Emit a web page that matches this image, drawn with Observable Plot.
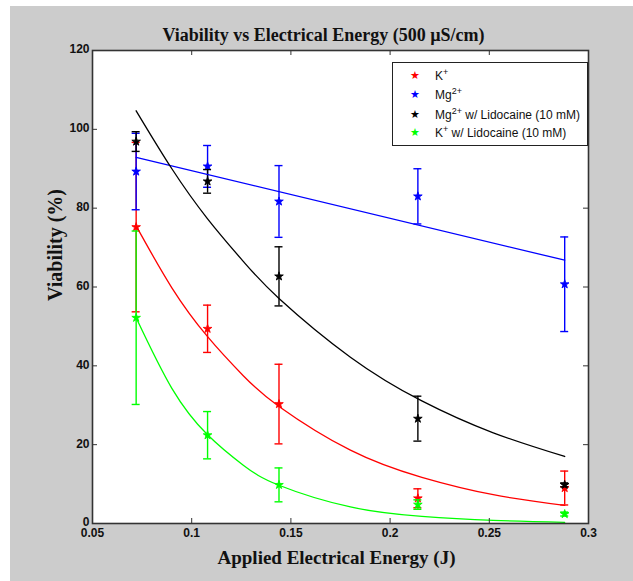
<!DOCTYPE html>
<html>
<head>
<meta charset="utf-8">
<script src="https://cdn.jsdelivr.net/npm/d3@7"></script>
<script src="https://cdn.jsdelivr.net/npm/@observablehq/plot@0.6"></script>
<style>
  body { margin: 0; background: white; }
  #wrap { position: relative; width: 633px; height: 581px; overflow: hidden; }
  #bg { position: absolute; left: 10px; top: 6px; right: 0; bottom: 0; background: #cccccc; }
  #legend { position: absolute; left: 392px; top: 62px; width: 196px; height: 84px; box-sizing: border-box;
    border: 1.5px solid #222; background: white; font-family: "Liberation Sans", Arial, sans-serif; font-size: 12px; color: #111; }
  .row { position: absolute; left: 0; height: 16px; line-height: 16px; white-space: nowrap; }
  .row .sym { position: absolute; left: 17px; top: 0; font-family: "DejaVu Sans"; font-size: 11px; }
  .row .lab { position: absolute; left: 42px; top: 0; }
  .row sup { font-size: 9px; line-height: 0; vertical-align: 5px; }
</style>
</head>
<body>
<div id="wrap"><div id="bg"></div></div>
<script>
const xVals = [0.072, 0.108, 0.144, 0.214, 0.288];
const kMean = [75.2, 49.4, 30.3, 6.4, 9.0];
const kErr = [21.5, 6.0, 10.1, 2.4, 4.3];
const mgMean = [89.3, 90.6, 81.7, 83.0, 60.7];
const mgErr = [9.7, 5.3, 9.1, 7.0, 12.0];
const mgLidoMean = [96.9, 86.8, 62.7, 26.6, 9.8];
const mgLidoErr = [2.5, 3.0, 7.5, 5.7, 0.5];
const kLidoMean = [52.2, 22.4, 9.8, 4.8, 2.4];
const kLidoErr = [22.0, 6.0, 4.3, 1.2, 0.5];

const fitX = [0.072, 0.09, 0.108, 0.126, 0.144, 0.18, 0.216, 0.252, 0.288];
const kFit = [75.5, 59.8, 47.4, 37.5, 29.7, 18.6, 11.7, 7.3, 4.6];
const mgLidoFit = [104.7, 90.0, 77.3, 66.5, 57.1, 42.2, 31.1, 23.0, 17.0];
const kLidoFit = [52.2, 34.3, 22.5, 14.8, 9.7, 4.2, 1.8, 0.8, 0.3];
const mgFitX = [0.072, 0.288];
const mgFit = [92.9, 66.8];

const xTicks = [0.05, 0.1, 0.15, 0.2, 0.25, 0.3];
const xTickLabels = ["0.05", "0.1", "0.15", "0.2", "0.25", "0.3"];
const yTicks = [0, 20, 40, 60, 80, 100, 120];
const yTickLabels = ["0", "20", "40", "60", "80", "100", "120"];

const seriesNames = ["K+", "Mg2+", "Mg2+ w/ Lidocaine (10 mM)", "K+ w/ Lidocaine (10 mM)"];
const seriesLegendHtml = ["K<sup>+</sup>", "Mg<sup>2+</sup>", "Mg<sup>2+</sup> w/ Lidocaine (10 mM)", "K<sup>+</sup> w/ Lidocaine (10 mM)"];
const seriesColors = ["#ff0000", "#0000ff", "#000000", "#00ff00"];
const titleText = "Viability vs Electrical Energy (500 µS/cm)";
const xLabel = "Applied Electrical Energy (J)";
const yLabel = "Viability (%)";

const means = [kMean, mgMean, mgLidoMean, kLidoMean];
const errs = [kErr, mgErr, mgLidoErr, kLidoErr];
const fits = [
  fitX.map((x, i) => ({x, y: kFit[i]})),
  mgFitX.map((x, i) => ({x, y: mgFit[i]})),
  fitX.map((x, i) => ({x, y: mgLidoFit[i]})),
  fitX.map((x, i) => ({x, y: kLidoFit[i]}))
];

const serif = "Liberation Serif, Times New Roman, serif";
const sans = "Liberation Sans, Arial, sans-serif";

const marks = [Plot.frame({fill: "white", stroke: null})];
seriesNames.forEach((name, s) => {
  const rows = xVals.map((x, i) => ({x, y: means[s][i], lo: means[s][i] - errs[s][i], hi: means[s][i] + errs[s][i]}));
  const c = seriesColors[s];
  marks.push(
    Plot.ruleX(rows, {x: "x", y1: "lo", y2: "hi", stroke: c, strokeWidth: 1.4}),
    Plot.ruleY(rows, {y: "lo", x1: "x", x2: "x", insetLeft: -4, insetRight: -4, stroke: c, strokeWidth: 1.4}),
    Plot.ruleY(rows, {y: "hi", x1: "x", x2: "x", insetLeft: -4, insetRight: -4, stroke: c, strokeWidth: 1.4}),
    Plot.dot(rows, {x: "x", y: "y", symbol: "star", r: 2.7, fill: c, stroke: c, strokeWidth: 0.9})
  );
});
seriesNames.forEach((name, s) => {
  marks.push(Plot.line(fits[s], {x: "x", y: "y", curve: "natural", stroke: seriesColors[s], strokeWidth: 1.3}));
});
marks.push(
  Plot.ruleX(xTicks, {x: d => d, insetTop: 468, stroke: "#333", strokeWidth: 1}),
  Plot.ruleX(xTicks, {x: d => d, insetBottom: 468, stroke: "#333", strokeWidth: 1}),
  Plot.ruleY(yTicks, {y: d => d, insetRight: 491, stroke: "#333", strokeWidth: 1}),
  Plot.ruleY(yTicks, {y: d => d, insetLeft: 491, stroke: "#333", strokeWidth: 1}),
  Plot.frame({stroke: "#333", strokeWidth: 1.6}),
  Plot.axisX({ticks: xTicks, tickSize: 0, tickPadding: 5, label: null, tickFormat: d => xTickLabels[xTicks.indexOf(d)],
    fontSize: 12, fontWeight: "bold", fontFamily: sans, fill: "#111"}),
  Plot.axisY({ticks: yTicks, tickSize: 0, tickPadding: 3, label: null, tickFormat: d => yTickLabels[yTicks.indexOf(d)],
    dy: -1, fontSize: 12, fontWeight: "bold", fontFamily: sans, fill: "#111"}),
  Plot.text([titleText], {frameAnchor: "top", lineAnchor: "middle", dy: -15, dx: -17, fontSize: 18, fontWeight: "bold", fontFamily: serif, fill: "#111"}),
  Plot.text([xLabel], {frameAnchor: "bottom", lineAnchor: "middle", dy: 34, dx: -4, fontSize: 19, fontWeight: "bold", fontFamily: serif, fill: "#111"}),
  Plot.text([yLabel], {frameAnchor: "left", lineAnchor: "middle", dx: -37, dy: 14, rotate: -90, fontSize: 20, fontWeight: "bold", fontFamily: serif, fill: "#111"})
);

const chart = Plot.plot({
  width: 633,
  height: 581,
  marginLeft: 92,
  marginRight: 45,
  marginTop: 50,
  marginBottom: 58,
  x: {domain: [0.05, 0.3]},
  y: {domain: [0, 120]},
  style: {background: "transparent", position: "absolute", left: "0px", top: "0px", overflow: "visible"},
  marks
});
const wrap = document.getElementById("wrap");
wrap.appendChild(chart);

const legend = document.createElement("div");
legend.id = "legend";
const rowTops = [5, 24, 44, 62];
seriesNames.forEach((name, s) => {
  const row = document.createElement("div");
  row.className = "row";
  row.style.top = rowTops[s] + "px";
  row.innerHTML = `<span class="sym" style="color:${seriesColors[s]}">★</span><span class="lab">${seriesLegendHtml[s]}</span>`;
  legend.appendChild(row);
});
wrap.appendChild(legend);
</script>
</body>
</html>
